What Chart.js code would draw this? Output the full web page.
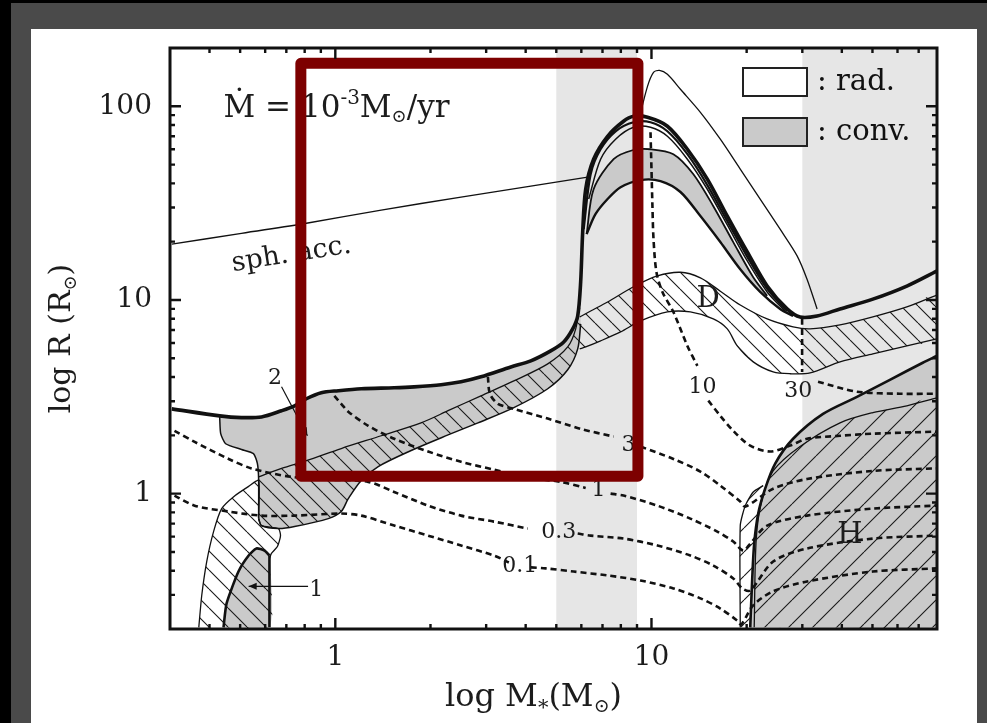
<!DOCTYPE html>
<html>
<head>
<meta charset="utf-8">
<script src="https://cdn.jsdelivr.net/npm/chart.js@4.4.1/dist/chart.umd.min.js"></script>
<style>
html,body{margin:0;padding:0;background:#4a4a4a;}
canvas{display:block;}
</style>
</head>
<body>
<canvas id="c" width="987" height="723"></canvas>
<script>
// ---------- axes ----------
const xTicks = [0.3,0.4,0.5,0.6,0.7,0.8,0.9,1,2,3,4,5,6,7,8,9,10,20,30,40,50,60,70,80];
const xTickLabels = [1, 10];
const yTicks = [0.2,0.3,0.4,0.5,0.6,0.7,0.8,0.9,1,2,3,4,5,6,7,8,9,10,20,30,40,50,60,70,80,90,100,200];
const yTickLabels = [1, 10, 100];
const xRange = [0.3, 80];
const yRange = [0.2, 200];

// ---------- shaded mass ranges and highlighted box ----------
const shadedMass = [[5, 9], [30, 80]];
const highlightMass = [0.778, 9.06];
const highlightRadius = [1.23, 166.7];

// ---------- curves: [M (Msun), R (Rsun)] ----------
const surface = [[0.304,2.74],[0.431,2.52],[0.505,2.47],[0.584,2.49],[0.676,2.68],[0.743,2.84],[0.810,3.09],[0.903,3.32],[1.022,3.40],[1.208,3.48],[1.535,3.52],[1.775,3.56],[2.160,3.65],[2.498,3.78],[2.888,4.01],[3.591,4.51],[4.153,4.85],[4.80,5.46],[5.278,6.07],[5.634,7.09],[5.843,8.27],[5.971,12.4],[6.059,22.4],[6.193,37.3],[6.561,53.3],[7.264,70.0],[8.160,83.7],[8.775,88.8],[9.714,87.7],[11.23,78.9],[12.99,60.0],[15.02,42.1],[17.37,27.1],[20.09,17.7],[23.22,11.8],[26.85,8.99],[29.51,8.17],[33.40,8.27],[39.48,8.99],[50.15,10.1],[64.22,11.8],[79.85,14.1]];
const innerShell1 = [[6.103,23.2],[6.422,44.6],[6.904,60.0],[7.70,74.3],[8.775,82.7],[9.93,82.7],[11.23,74.3],[12.99,56.6],[15.02,39.2],[17.37,25.5],[20.09,16.7],[23.22,11.4],[26.85,8.77]];
const innerShell2 = [[6.33,33.2],[6.904,53.3],[7.70,67.6],[8.775,77.9],[9.93,77.9],[11.23,70.0],[12.99,53.3],[15.02,37.3],[17.37,24.4],[20.09,15.9],[23.22,11.0],[26.47,8.77]];
const peakThin = [[9.10,83.7],[9.714,126.8],[10.15,149.7],[10.60,153.3],[11.23,146.2],[12.35,122.4],[14.28,93.1],[16.51,67.6],[19.09,47.4],[22.07,33.2],[25.52,23.2],[28.88,16.9],[31.05,12.8],[33.40,8.99]];
const sphAcc = [[0.304,19.4],[0.505,22.1],[0.810,24.9],[1.397,29.1],[2.498,34.0],[4.153,38.7],[6.283,43.1]];

// convective shell near the radius peak
const convUpper = [[6.237,21.9],[6.561,37.3],[7.589,53.3],[8.711,59.3],[9.93,60.0],[11.73,56.6],[13.57,44.6],[15.69,30.5],[18.14,19.9],[20.98,13.1],[23.22,10.5]];
const convLower = [[6.237,21.9],[6.657,27.8],[7.264,33.2],[7.984,38.2],[9.232,41.6],[10.68,41.1],[12.35,36.1],[14.28,27.1],[16.51,19.9],[19.09,14.4],[22.07,11.0],[25.52,8.99],[28.05,8.27]];

// low-mass convective zone and deuterium-burning layer
const burnUpper = [[0.572,1.22],[0.676,1.35],[0.810,1.48],[1.044,1.71],[1.397,1.99],[1.867,2.32],[2.273,2.68],[2.888,3.20],[3.670,3.82],[4.698,4.68],[5.433,5.72],[5.759,7.09],[5.929,9.54]];
const burnLower = [[5.971,7.52],[5.843,5.59],[5.433,4.36],[4.698,3.48],[3.670,2.78],[2.826,2.32],[2.273,2.01],[1.737,1.67],[1.367,1.38],[1.208,1.17],[1.099,0.942],[1.044,0.808],[0.950,0.743],[0.743,0.676],[0.661,0.660],[0.584,0.684],[0.572,0.743]];
const convLeftEdge = [[0.431,2.44],[0.434,2.04],[0.450,1.81],[0.505,1.69],[0.551,1.61],[0.567,1.43],[0.572,1.19],[0.572,0.743]];
const dShellUpper = [[5.929,8.17],[6.422,8.77],[7.264,9.76],[8.775,11.7],[10.44,13.3],[12.35,13.9],[14.28,13.0],[16.51,11.1],[19.09,9.42],[23.22,7.98],[28.05,7.26],[31.75,7.09],[39.48,7.43],[50.15,8.17],[64.22,9.20],[79.85,10.6]];
const dShellLower = [[79.85,6.30],[64.22,5.79],[50.15,5.27],[39.48,4.79],[31.75,4.20],[27.45,4.16],[24.26,4.25],[20.98,4.79],[18.68,5.79],[17.37,7.09],[15.69,7.98],[13.27,8.67],[11.23,8.67],[9.232,7.79],[7.984,6.84],[6.904,6.15],[6.193,5.72],[5.929,5.59]];

// initial core region (bottom left)
const coreOuter = [[0.370,0.204],[0.378,0.298],[0.392,0.446],[0.412,0.637],[0.437,0.837],[0.477,0.965],[0.532,1.09],[0.572,1.17]];
const coreRight = [[0.572,0.743],[0.584,0.684],[0.661,0.660],[0.671,0.607],[0.656,0.533],[0.628,0.491],[0.619,0.462],[0.619,0.204]];
const coreConv = [[0.443,0.204],[0.453,0.271],[0.494,0.396],[0.532,0.479],[0.563,0.521],[0.597,0.508],[0.619,0.479],[0.619,0.204]];

// hydrogen-burning convective core (bottom right)
const hOuter = [[20.53,0.204],[20.83,0.365],[21.13,0.552],[21.76,0.789],[22.88,1.06],[24.62,1.43],[28.05,1.92],[34.88,2.58],[44.66,3.16],[56.76,3.87],[72.11,4.74],[79.85,5.14]];
const hInner = [[21.13,0.204],[21.45,0.586],[22.40,0.942],[24.26,1.31],[29.51,1.75],[39.48,2.32],[50.15,2.62],[64.22,2.84],[79.85,3.12]];
const hEdge = [[19.09,0.204],[19.09,0.684],[19.80,0.867],[20.98,1.02],[22.56,1.10]];

// luminosity contours (dashed); null marks the gap under the label
const cont01 = [[0.310,0.977],[0.359,0.867],[0.460,0.808],[0.584,0.770],[0.743,0.770],[1.044,0.789],[1.208,0.770],[1.535,0.684],[1.966,0.607],[2.498,0.540],[3.174,0.479],[3.539,0.441],[3.83,null],[4.153,0.416],[4.630,0.411],[5.675,0.396],[7.264,0.378],[9.232,0.356],[11.73,0.324],[14.28,0.288],[16.51,0.255],[18.68,0.221],[19.22,0.211],[20.98,0.265],[24.26,0.313],[31.05,0.352],[50.15,0.396],[79.85,0.411]];
const cont03 = [[0.310,2.11],[0.359,1.85],[0.460,1.51],[0.543,1.35],[0.727,1.22],[0.971,1.18],[1.271,1.15],[1.535,1.02],[1.966,0.867],[2.498,0.770],[3.174,0.717],[4.063,0.660],[5.09,null],[5.843,0.622],[6.422,0.607],[8.160,0.586],[10.44,0.540],[13.27,0.479],[15.69,0.425],[18.14,0.365],[19.36,0.324],[20.53,0.316],[24.26,0.446],[31.05,0.521],[50.15,0.586],[79.85,0.607]];
const cont1 = [[0.993,3.20],[1.044,2.91],[1.099,2.65],[1.271,2.24],[1.535,1.92],[1.966,1.65],[2.498,1.46],[3.174,1.33],[4.063,1.21],[5.164,1.15],[6.193,1.07],[6.80,null],[7.424,1.0],[8.160,0.977],[10.44,0.867],[13.27,0.743],[16.15,0.637],[18.14,0.566],[19.51,0.508],[20.53,0.552],[23.22,0.684],[31.05,0.770],[50.15,0.837],[79.85,0.867]];
const cont3 = [[3.038,4.01],[3.083,3.28],[3.268,2.91],[3.670,2.74],[4.698,2.44],[5.971,2.16],[7.589,1.97],[8.46,null],[9.232,1.75],[11.73,1.51],[14.28,1.30],[16.51,1.10],[19.09,0.910],[19.80,0.857],[24.26,1.06],[31.05,1.19],[50.15,1.31],[79.85,1.35]];
const cont10 = [[9.93,73.5],[10.0,47.4],[10.07,30.5],[10.15,20.6],[10.37,13.9],[10.83,11.0],[11.73,8.67],[12.99,5.79],[13.97,4.57],[14.49,null],[15.13,3.02],[16.51,2.52],[18.14,2.11],[20.53,1.77],[23.74,1.65],[27.45,1.77],[31.05,1.92],[39.48,1.99],[50.15,2.04],[79.85,2.09]];
const cont30 = [[29.95,7.98],[29.95,4.25],[29.1,null],[33.64,3.78],[44.66,3.36],[61.03,3.28],[79.85,3.28]];

// pointers for the numbered regions
const pointer2 = [[0.676,3.56],[0.816,1.99]];
const pointer1 = [[0.82,0.332],[0.532,0.332]];

// ---------- text ----------
const contourLabels = [
  {text:'0.1', m:3.83, r:0.42},
  {text:'0.3', m:5.09, r:0.63},
  {text:'1', m:6.80, r:1.04},
  {text:'3', m:8.46, r:1.77},
  {text:'10', m:14.49, r:3.56},
  {text:'30', m:29.1, r:3.36}
];
const regionLabels = [{text:'D', m:15.1, r:10.1}, {text:'H', m:42.4, r:0.607}];
const pointerLabels = [{text:'2', m:0.645, r:3.96}, {text:'1', m:0.871, r:0.318}];
const sphLabel = {text:'sph. acc.', m:0.727, r:17.1};
const rateLabel = {m:0.443, r:87.7, parts:[['Ṁ = 10',31,0],['-3',20,-13],['M',31,0],['⊙',18,5],['/yr',31,0]]};
const legendItems = [{text:': rad.', fill:'#ffffff'}, {text:': conv.', fill:'#cacaca'}];
const xTitleParts = [['log M',32,0],['*',21,8],['(M',32,0],['⊙',19,6],[')',32,0]];
const yTitleParts = [['log R (R',30,0],['⊙',18,6],[')',30,0]];

// ---------- styles ----------
const SERIF = "'DejaVu Serif','Liberation Serif',serif";
const INK = '#111111';
const GRAY = '#cacaca';
const BAND = '#e6e6e6';

function hatch(dir, size) {
  const c = document.createElement('canvas');
  c.width = c.height = size;
  const g = c.getContext('2d');
  g.strokeStyle = '#1a1a1a';
  g.lineWidth = 1.1;
  g.beginPath();
  for (let k = -1; k <= 1; k++) {
    if (dir === 'back') { g.moveTo(k*size, 0); g.lineTo(k*size + size, size); }
    else { g.moveTo(k*size, size); g.lineTo(k*size + size, 0); }
  }
  g.stroke();
  return g.createPattern(c, 'repeat');
}
const hatchBack = hatch('back', 17);
const hatchBackWide = hatch('back', 19);
const hatchFwd = hatch('fwd', 24);

const P = a => a.map(([x, y]) => ({x, y}));
const closed = a => P(a.concat([a[0]]));
function curve(data, width, extra) {
  return Object.assign({data: P(data), borderColor: INK, borderWidth: width, fill: false, tension: 0.3, pointRadius: 0}, extra || {});
}
function region(data, bg, tension) {
  return {data: closed(data), backgroundColor: bg, borderColor: 'rgba(0,0,0,0)', borderWidth: 0, fill: 'shape', tension: tension, pointRadius: 0};
}
function dashed(data) {
  return curve(data, 2.6, {borderDash: [6, 4], tension: 0.3});
}

// ---------- layered datasets (first = bottom) ----------
const bandShapes = shadedMass.map(([a, b]) => [[a, yRange[0]], [a, yRange[1]], [b, yRange[1]], [b, yRange[0]]]);
const convZone = surface.slice(1, 21).concat([[5.929, 9.54]], burnLower, convLeftEdge.slice(0, -1).reverse());
const peakShell = convUpper.concat(convLower.slice(1, 11).reverse());
const burnLayer = burnUpper.concat(burnLower);
const dShell = dShellUpper.concat(dShellLower);
const coreZone = coreOuter.concat(coreRight);
const hGray = hOuter.concat([[xRange[1], 0.204]]);
const hHatch = hInner.concat([[xRange[1], 0.204]]);
const hStrip = hEdge.concat(hOuter.slice(0, 4).reverse());
const boxPath = [[highlightMass[0], highlightRadius[0]], [highlightMass[0], highlightRadius[1]], [highlightMass[1], highlightRadius[1]], [highlightMass[1], highlightRadius[0]], [highlightMass[0], highlightRadius[0]]];

const layers = [
  ...bandShapes.map(s => region(s, BAND, 0)),
  region(convZone, GRAY, 0.2),
  region(peakShell, GRAY, 0.3),
  region(coreConv, GRAY, 0.2),
  region(hGray, GRAY, 0.25),
  region(burnLayer, hatchBack, 0.25),
  region(dShell, hatchBack, 0.25),
  region(coreZone, hatchBackWide, 0.2),
  region(hHatch, hatchFwd, 0.25),
  region(hStrip, hatchFwd, 0.2),
  curve(sphAcc, 1.3),
  curve(burnUpper, 1.3),
  curve(burnLower, 1.5),
  curve([surface[1]].concat(convLeftEdge), 1.5, {tension: 0.2}),
  curve(dShellUpper, 1.3),
  curve(dShellLower, 1.3),
  curve(coreOuter.concat([coreRight[0]]), 1.3, {tension: 0.2}),
  curve(coreRight.slice(0, -1), 1.3, {tension: 0.2}),
  curve(peakThin, 1.3),
  curve(innerShell2, 1.5),
  curve(innerShell1, 2.2),
  curve(convUpper, 1.8),
  curve(convLower, 2.4),
  curve(hInner, 1.3),
  curve(hEdge, 1.3, {tension: 0.2}),
  curve(surface, 3.6),
  curve(coreConv.slice(0, -1), 2.6, {tension: 0.2}),
  curve(coreConv.slice(-2), 2.6, {tension: 0}),
  curve(hOuter, 2.6),
  dashed(cont01), dashed(cont03), dashed(cont1), dashed(cont3), dashed(cont10), dashed(cont30),
  curve(pointer2, 1.2, {tension: 0, arrowEnd: true}),
  curve(pointer1, 1.2, {tension: 0, arrowEnd: true}),
  curve(boxPath, 11, {borderColor: '#7d0000', tension: 0, borderJoinStyle: 'round', borderCapStyle: 'round', isHighlight: true})
];
layers.forEach((d, i) => { d.order = layers.length - i; });

// ---------- plugins ----------
function drawRich(ctx, parts, x, y, align) {
  let w = 0;
  parts.forEach(p => { ctx.font = p[1] + 'px ' + SERIF; w += ctx.measureText(p[0]).width; });
  let cx = align === 'center' ? x - w / 2 : x;
  parts.forEach(p => {
    ctx.font = p[1] + 'px ' + SERIF;
    ctx.fillText(p[0], cx, y + p[2]);
    cx += ctx.measureText(p[0]).width;
  });
}

const panel = {
  id: 'panel',
  beforeDraw(chart) {
    const ctx = chart.ctx, W = chart.width, H = chart.height;
    ctx.save();
    ctx.fillStyle = '#4a4a4a'; ctx.fillRect(0, 0, W, H);
    ctx.fillStyle = '#000'; ctx.fillRect(0, 0, 11, H); ctx.fillRect(0, 0, W, 3);
    ctx.fillStyle = '#fff'; ctx.fillRect(31, 29, W - 41, H - 29);
    ctx.restore();
  }
};

const frameTicks = {
  id: 'frameTicks',
  afterDatasetsDraw(chart) {
    const {ctx, chartArea: a, scales: {x, y}} = chart;
    ctx.save();
    ctx.strokeStyle = INK; ctx.lineWidth = 2.4;
    ctx.beginPath();
    x.ticks.forEach(t => {
      const px = x.getPixelForValue(t.value);
      if (px <= a.left + 1 || px >= a.right - 1) return;
      const len = xTickLabels.includes(t.value) ? 11 : 5;
      ctx.moveTo(px, a.bottom); ctx.lineTo(px, a.bottom - len);
      ctx.moveTo(px, a.top); ctx.lineTo(px, a.top + len);
    });
    y.ticks.forEach(t => {
      const py = y.getPixelForValue(t.value);
      if (py <= a.top + 1 || py >= a.bottom - 1) return;
      const len = yTickLabels.includes(t.value) ? 11 : 5;
      ctx.moveTo(a.left, py); ctx.lineTo(a.left + len, py);
      ctx.moveTo(a.right, py); ctx.lineTo(a.right - len, py);
    });
    ctx.stroke();
    ctx.lineWidth = 3;
    ctx.strokeRect(a.left, a.top, a.right - a.left, a.bottom - a.top);

    // legend
    const bx = a.right - 194, bw = 64;
    legendItems.forEach((it, i) => {
      const by = a.top + 20 + i * 50, bh = 28;
      ctx.fillStyle = it.fill; ctx.fillRect(bx, by, bw, bh);
      ctx.lineWidth = 2; ctx.strokeStyle = '#222'; ctx.strokeRect(bx, by, bw, bh);
      ctx.fillStyle = INK; ctx.font = '29px ' + SERIF;
      ctx.textAlign = 'left'; ctx.textBaseline = 'middle';
      ctx.fillText(it.text, bx + bw + 10, by + bh / 2);
    });
    ctx.restore();
  },
  afterDatasetDraw(chart, args) {
    const ds = chart.data.datasets[args.index];
    if (!ds.arrowEnd) return;
    const pts = args.meta.data;
    const p1 = pts[pts.length - 1], p0 = pts[pts.length - 2];
    const ang = Math.atan2(p1.y - p0.y, p1.x - p0.x);
    const ctx = chart.ctx;
    ctx.save();
    ctx.translate(p1.x, p1.y); ctx.rotate(ang);
    ctx.fillStyle = INK;
    ctx.beginPath(); ctx.moveTo(0, 0); ctx.lineTo(-8, -3.5); ctx.lineTo(-8, 3.5); ctx.closePath(); ctx.fill();
    ctx.restore();
  }
};

const annotations = {
  id: 'annotations',
  beforeDatasetDraw(chart, args) {
    if (!chart.data.datasets[args.index].isHighlight) return;
    const {ctx, scales: {x, y}} = chart;
    ctx.save();
    ctx.fillStyle = '#1c1c1c';
    ctx.textAlign = 'center'; ctx.textBaseline = 'middle';
    ctx.font = '22px ' + SERIF;
    contourLabels.forEach(l => ctx.fillText(l.text, x.getPixelForValue(l.m), y.getPixelForValue(l.r)));
    pointerLabels.forEach(l => ctx.fillText(l.text, x.getPixelForValue(l.m), y.getPixelForValue(l.r)));
    ctx.font = '29px ' + SERIF;
    regionLabels.forEach(l => ctx.fillText(l.text, x.getPixelForValue(l.m), y.getPixelForValue(l.r)));
    ctx.save();
    ctx.translate(x.getPixelForValue(sphLabel.m), y.getPixelForValue(sphLabel.r));
    ctx.rotate(-9 * Math.PI / 180);
    ctx.font = '27px ' + SERIF;
    ctx.fillText(sphLabel.text, 0, 0);
    ctx.restore();
    ctx.textAlign = 'left'; ctx.textBaseline = 'alphabetic';
    drawRich(ctx, rateLabel.parts, x.getPixelForValue(rateLabel.m), y.getPixelForValue(rateLabel.r), 'left');
    ctx.restore();
  }
};

const axisTitles = {
  id: 'axisTitles',
  afterDraw(chart) {
    const {ctx, chartArea: a} = chart;
    ctx.save();
    ctx.fillStyle = '#1c1c1c';
    ctx.textBaseline = 'alphabetic';
    drawRich(ctx, xTitleParts, (a.left + a.right) / 2 - 20, a.bottom + 77, 'center');
    ctx.translate(70, (a.top + a.bottom) / 2);
    ctx.rotate(-Math.PI / 2);
    drawRich(ctx, yTitleParts, 0, 0, 'center');
    ctx.restore();
  }
};

// ---------- chart ----------
new Chart(document.getElementById('c'), {
  type: 'line',
  data: {datasets: layers},
  options: {
    responsive: false,
    devicePixelRatio: 1,
    animation: false,
    events: [],
    layout: {padding: {left: 30, right: 50, top: 48, bottom: 0}},
    plugins: {legend: {display: false}, tooltip: {enabled: false}},
    scales: {
      x: {
        type: 'logarithmic', min: xRange[0], max: xRange[1],
        grid: {display: false, drawTicks: false}, border: {display: false},
        afterBuildTicks: s => { s.ticks = xTicks.map(v => ({value: v})); },
        afterFit: s => { s.height = 94; },
        ticks: {autoSkip: false, maxRotation: 0, minRotation: 0, padding: 12, color: '#1c1c1c',
          font: {family: SERIF, size: 28},
          callback: v => xTickLabels.includes(v) ? String(v) : ''}
      },
      y: {
        type: 'logarithmic', min: yRange[0], max: yRange[1],
        grid: {display: false, drawTicks: false}, border: {display: false},
        afterBuildTicks: s => { s.ticks = yTicks.map(v => ({value: v})); },
        afterFit: s => { s.width = 140; },
        ticks: {autoSkip: false, padding: 18, color: '#1c1c1c',
          font: {family: SERIF, size: 28},
          callback: v => yTickLabels.includes(v) ? String(v) : ''}
      }
    }
  },
  plugins: [panel, frameTicks, annotations, axisTitles]
});
</script>
</body>
</html>
